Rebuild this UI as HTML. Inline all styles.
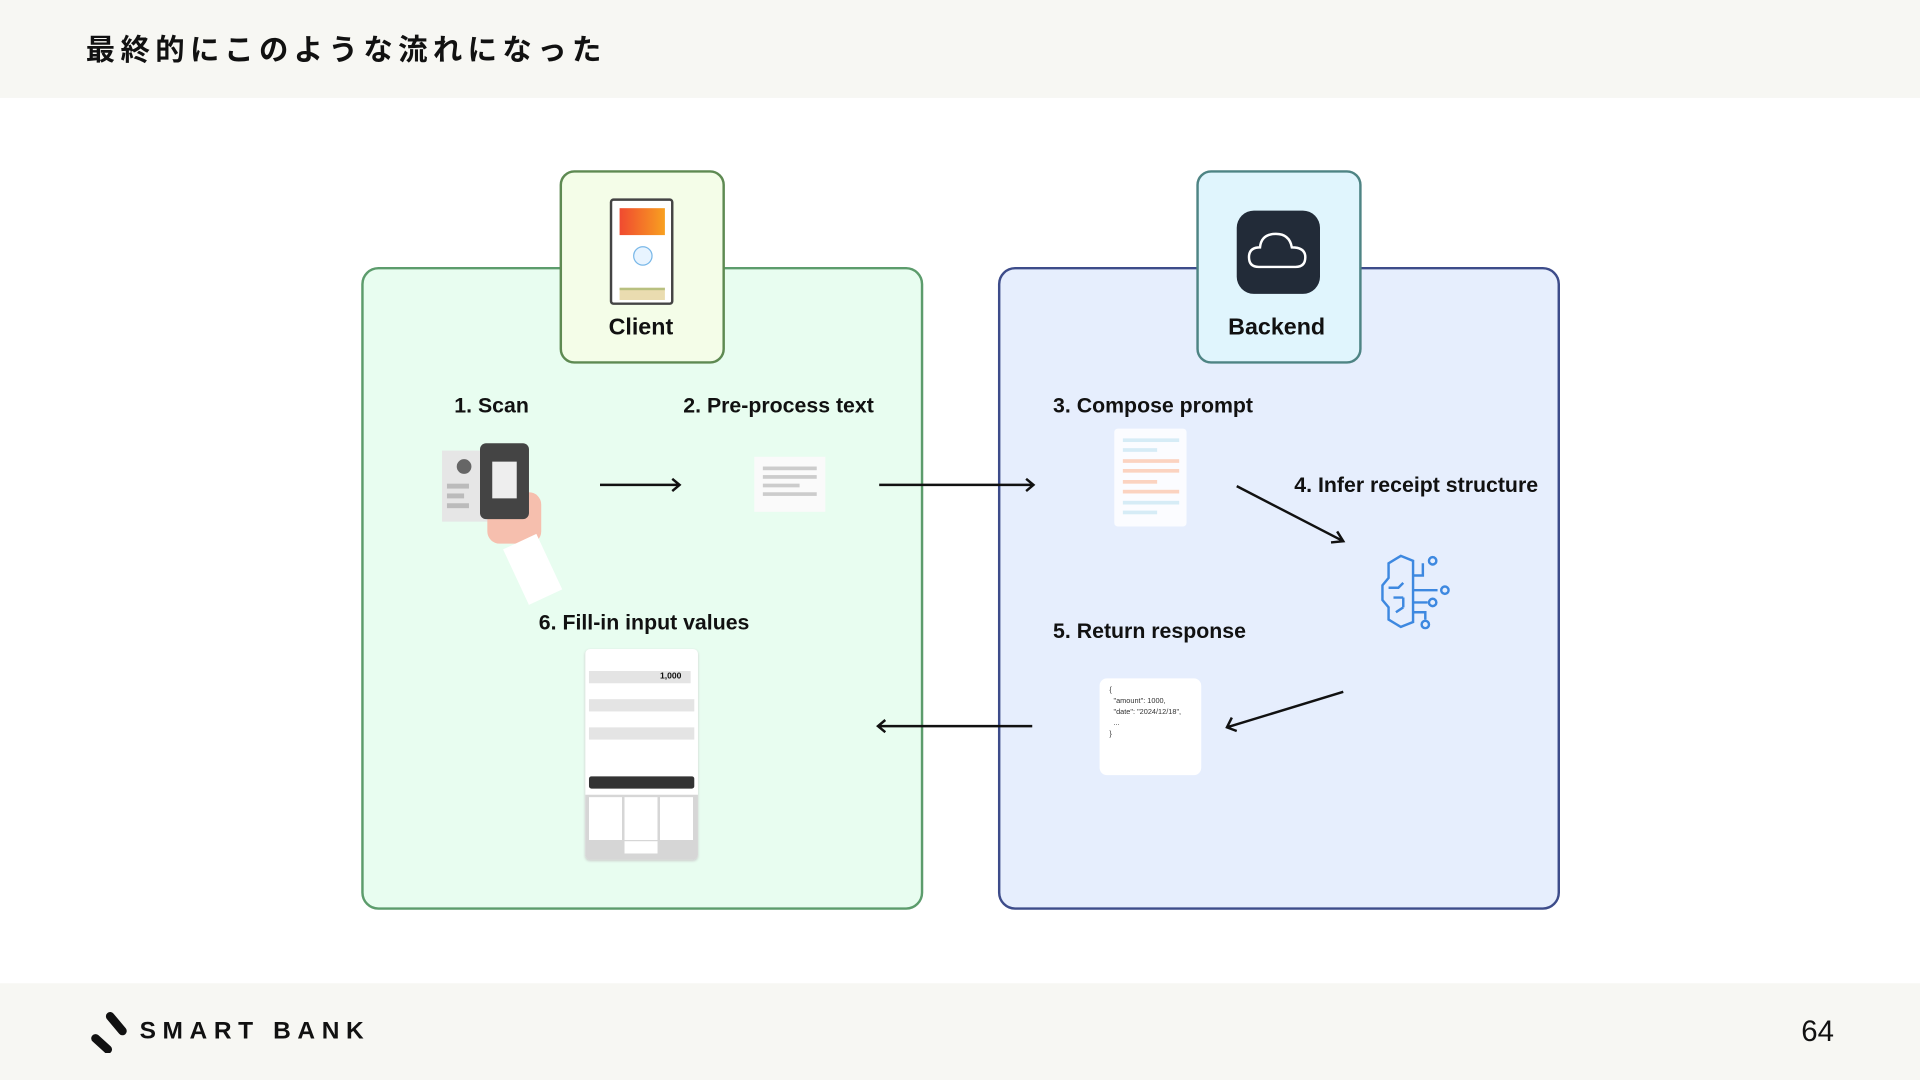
<!DOCTYPE html>
<html><head><meta charset="utf-8"><style>
html,body{margin:0;padding:0;width:1920px;height:1080px;overflow:hidden;background:#fff}
#s{position:absolute;left:0;top:0;width:1568px;height:882px;transform:scale(1.22449);transform-origin:0 0;font-family:"Liberation Sans","Noto Sans CJK JP",sans-serif;color:#111}
.a{position:absolute}
.lbl{position:absolute;font-weight:bold;font-size:17.4px;white-space:nowrap;line-height:20px}
</style></head><body><div id="s">
<div class="a" style="left:0;top:0;width:1568px;height:80px;background:#f7f7f3"></div>
<div class="a" style="left:70px;top:22px;font-size:24px;font-weight:bold;letter-spacing:4.4px;font-family:'Noto Sans CJK JP',sans-serif;line-height:34px">最終的にこのような流れになった</div>
<div class="a" style="left:0;top:803px;width:1568px;height:79px;background:#f7f7f3"></div>
<svg class="a" style="left:72px;top:824px" width="34" height="36"><line x1="6" y1="24" x2="16" y2="33" stroke="#111" stroke-width="7" stroke-linecap="round"/><line x1="18" y1="6" x2="28" y2="18" stroke="#111" stroke-width="7" stroke-linecap="round"/></svg>
<div class="a" style="left:114px;top:830px;font-size:20px;font-weight:bold;letter-spacing:5.4px;line-height:24px">SMART BANK</div>
<div class="a" style="left:1471px;top:829px;font-size:24px;line-height:28px">64</div>

<div class="a" style="left:295px;top:218px;width:455px;height:521px;background:#e8fdf0;border:2px solid #5c9c6c;border-radius:14px"></div>
<div class="a" style="left:457px;top:139px;width:131px;height:154px;background:#f4fde8;border:2px solid #5e8a52;border-radius:12px"></div>
<div class="a" style="left:498px;top:162px;width:48px;height:83px;border:2.5px solid #444;border-radius:3px;background:#fff"></div>
<div class="a" style="left:506px;top:170px;width:37px;height:22px;background:linear-gradient(90deg,#f04a30,#f8a020)"></div>
<div class="a" style="left:517px;top:201px;width:14px;height:14px;border:1.5px solid #7ab8e8;border-radius:50%;background:#e8f4ff"></div>
<div class="a" style="left:506px;top:235px;width:37px;height:8px;background:#eadcb0;border-top:2px solid #b8c080"></div>
<div class="lbl" style="left:497px;top:258px;font-size:19px">Client</div>

<div class="a" style="left:815px;top:218px;width:455px;height:521px;background:#e6eefd;border:2px solid #3d4c8a;border-radius:14px"></div>
<div class="a" style="left:977px;top:139px;width:131px;height:154px;background:#e0f5fd;border:2px solid #4e8484;border-radius:12px"></div>
<div class="a" style="left:1010px;top:172px;width:68px;height:68px;background:#222b38;border-radius:14px"></div>
<svg class="a" style="left:1018px;top:182px" width="52" height="48"><path d="M10 36 Q2 36 2 28 Q2 20 11 20 Q12 9 24 9 Q35 9 37 20 Q48 20 48 28 Q48 36 40 36 Z" fill="none" stroke="#fff" stroke-width="2"/></svg>
<div class="lbl" style="left:1003px;top:258px;font-size:19px">Backend</div>

<div class="lbl" style="left:371px;top:321px">1. Scan</div>
<div class="lbl" style="left:558px;top:321px">2. Pre-process text</div>
<div class="lbl" style="left:860px;top:321px">3. Compose prompt</div>
<div class="lbl" style="left:1057px;top:386px">4. Infer receipt structure</div>
<div class="lbl" style="left:860px;top:505px">5. Return response</div>
<div class="lbl" style="left:440px;top:498px">6. Fill-in input values</div>

<div class="a" style="left:361px;top:368px;width:45px;height:58px;background:#e6e6e6"></div>
<div class="a" style="left:373px;top:375px;width:12px;height:12px;border-radius:50%;background:#666"></div>
<div class="a" style="left:365px;top:395px;width:18px;height:4px;background:#bbb"></div>
<div class="a" style="left:365px;top:403px;width:14px;height:4px;background:#bbb"></div>
<div class="a" style="left:365px;top:411px;width:18px;height:4px;background:#bbb"></div>
<div class="a" style="left:398px;top:402px;width:44px;height:42px;background:#f6bfae;border-radius:10px"></div>
<div class="a" style="left:420px;top:440px;width:30px;height:50px;background:#fff;transform:rotate(-25deg)"></div>
<div class="a" style="left:392px;top:362px;width:40px;height:62px;background:#444;border-radius:5px"></div>
<div class="a" style="left:402px;top:377px;width:20px;height:30px;background:#eee"></div>

<div class="a" style="left:616px;top:373px;width:58px;height:45px;background:#fafafa"></div>
<div class="a" style="left:623px;top:381px;width:44px;height:3px;background:#ccc;box-shadow:0 7px 0 #ccc,0 21px 0 #ccc"></div>
<div class="a" style="left:623px;top:395px;width:30px;height:3px;background:#ccc"></div>

<div class="a" style="left:910px;top:350px;width:59px;height:80px;background:#fbfcff;border-radius:3px"></div>
<div class="a" style="left:917px;top:358px;width:46px;height:3px;background:#d6ecf6"></div>
<div class="a" style="left:917px;top:366px;width:28px;height:3px;background:#d6ecf6"></div>
<div class="a" style="left:917px;top:375px;width:46px;height:3px;background:#fbd3c0"></div>
<div class="a" style="left:917px;top:383px;width:46px;height:3px;background:#fbd3c0"></div>
<div class="a" style="left:917px;top:392px;width:28px;height:3px;background:#fbd3c0"></div>
<div class="a" style="left:917px;top:400px;width:46px;height:3px;background:#fbd3c0"></div>
<div class="a" style="left:917px;top:409px;width:46px;height:3px;background:#d6ecf6"></div>
<div class="a" style="left:917px;top:417px;width:28px;height:3px;background:#d6ecf6"></div>

<div class="a" style="left:898px;top:554px;width:83px;height:79px;background:#fff;border-radius:6px;font-size:6px;line-height:9px;color:#333">
<div style="padding:6px 0 0 8px">{<br>&nbsp;&nbsp;"amount": 1000,<br>&nbsp;&nbsp;"date": "2024/12/18",<br>&nbsp;&nbsp;...<br>}</div></div>

<svg class="a" style="left:1126px;top:450px" width="64" height="64" fill="none" stroke="#3d88e0" stroke-width="2">
<path d="M18 4 L28 8 L28 58 L18 62 L8 56 L8 46 L3 40 L3 28 L8 22 L8 10 Z"/>
<path d="M28 20 L36 20 L36 10 M28 32 L48 32 M28 42 L40 42 M28 50 L38 50 L38 56"/>
<circle cx="44" cy="8" r="3"/><circle cx="54" cy="32" r="3"/><circle cx="44" cy="42" r="3"/><circle cx="38" cy="60" r="3"/>
<path d="M8 30 L16 30 L20 26 M12 38 L20 38 M20 38 L20 46 M14 50 L20 46"/>
</svg>

<div class="a" style="left:478px;top:530px;width:92px;height:172px;background:#fff;border-radius:4px;box-shadow:0 1px 2px #ccc"></div>
<div class="a" style="left:481px;top:548px;width:83px;height:10px;background:#e4e4e4"></div>
<div class="a" style="left:539px;top:549px;font-size:7px;font-weight:bold">1,000</div>
<div class="a" style="left:481px;top:571px;width:86px;height:10px;background:#e4e4e4"></div>
<div class="a" style="left:481px;top:594px;width:86px;height:10px;background:#e4e4e4"></div>
<div class="a" style="left:481px;top:634px;width:86px;height:10px;background:#333;border-radius:2px"></div>
<div class="a" style="left:478px;top:649px;width:92px;height:53px;background:#d6d6d6;border-radius:0 0 4px 4px"></div>
<div class="a" style="left:481px;top:651px;width:86px;height:35px;background:repeating-linear-gradient(90deg,#fff 0 27px,#d6d6d6 27px 29px)"></div>
<div class="a" style="left:510px;top:687px;width:27px;height:10px;background:#fff"></div>

<svg class="a" style="left:0;top:0" width="1568" height="882" fill="none" stroke="#111" stroke-width="2">
<path d="M490 396 L555 396 M549 391 L555 396 L549 401"/>
<path d="M718 396 L844 396 M838 391 L844 396 L838 401"/>
<path d="M1010 397 L1097 442 M1087 443 L1097 442 L1092 434"/>
<path d="M1097 565 L1002 594 M1006 586 L1002 594 L1010 597"/>
<path d="M843 593 L717 593 M723 588 L717 593 L723 598"/>
</svg>
</div></body></html>
